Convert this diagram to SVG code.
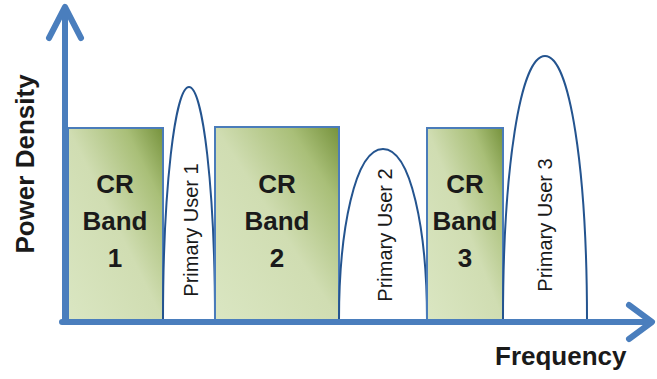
<svg xmlns="http://www.w3.org/2000/svg" width="657" height="379" viewBox="0 0 657 379">
  <defs>
    <linearGradient id="bandFill" x1="0" y1="1" x2="1" y2="0">
      <stop offset="0" stop-color="#dae6c2"/>
      <stop offset="0.5" stop-color="#d0ddb2"/>
      <stop offset="0.8" stop-color="#a9bf78"/>
      <stop offset="1" stop-color="#76923c"/>
    </linearGradient>
    <style>
      .band { fill: url(#bandFill); stroke: #4a7cba; stroke-width: 2; }
      .user { fill: #ffffff; stroke: #24548f; stroke-width: 2; }
      .axis { fill: none; stroke: #4a7ebd; stroke-width: 6; stroke-linecap: round; stroke-linejoin: round; }
      .bandLabel { font-family: "Liberation Sans", Arial, sans-serif; font-weight: bold; font-size: 26px; fill: #1a1a1a; text-anchor: middle; }
      .userLabel { font-family: "Liberation Sans", Arial, sans-serif; font-size: 20px; fill: #1a1a1a; text-anchor: middle; }
      .axisLabel { font-family: "Liberation Sans", Arial, sans-serif; font-weight: bold; font-size: 26px; fill: #1a1a1a; }
    </style>
  </defs>
  <rect width="657" height="379" fill="#ffffff"/>

  <g id="cr-band-1">
    <rect class="band" x="68" y="128" width="95" height="192"/>
    <text class="bandLabel" x="115" y="193">CR</text>
    <text class="bandLabel" x="115" y="230">Band</text>
    <text class="bandLabel" x="115" y="267">1</text>
  </g>

  <g id="primary-user-1">
    <path class="user" d="M163,320 C163,190 175,87 189,87 C203,87 215,190 215,320"/>
    <text class="userLabel" transform="translate(198,230) rotate(-90)">Primary User 1</text>
  </g>

  <g id="cr-band-2">
    <rect class="band" x="215" y="127" width="124" height="193"/>
    <text class="bandLabel" x="277" y="193">CR</text>
    <text class="bandLabel" x="277" y="230">Band</text>
    <text class="bandLabel" x="277" y="267">2</text>
  </g>

  <g id="primary-user-2">
    <path class="user" d="M339,320 C339,230 355,149 383,149 C411,149 427,230 427,320"/>
    <text class="userLabel" transform="translate(392,235) rotate(-90)">Primary User 2</text>
  </g>

  <g id="cr-band-3">
    <rect class="band" x="427" y="128" width="76" height="192"/>
    <text class="bandLabel" x="465" y="193">CR</text>
    <text class="bandLabel" x="465" y="230">Band</text>
    <text class="bandLabel" x="465" y="267">3</text>
  </g>

  <g id="primary-user-3">
    <path class="user" d="M503,320 C503,170 520,56 545,56 C570,56 587,170 587,320"/>
    <text class="userLabel" transform="translate(552,225) rotate(-90)">Primary User 3</text>
  </g>

  <g id="axes">
    <path class="axis" d="M65,322 L65,8 M49,38 L65,7 L81,38"/>
    <path class="axis" d="M62,322 L651,322 M629,305 L652,322 L629,339"/>
    <text class="axisLabel" transform="translate(34,164) rotate(-90)" text-anchor="middle">Power Density</text>
    <text class="axisLabel" x="495" y="365">Frequency</text>
  </g>
</svg>
